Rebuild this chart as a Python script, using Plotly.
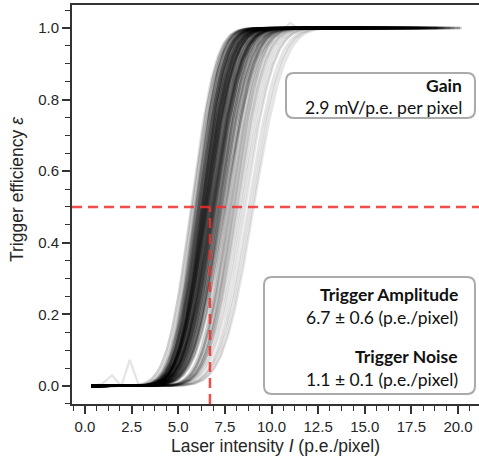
import math
import numpy as np
import plotly.graph_objects as go

# ---------------- data ----------------
# per-pixel fitted trigger amplitude (p.e./pixel) and trigger noise, densely populated core
core_amplitude = [6.42, 6.05, 6.88, 6.31, 7.12, 6.57, 5.96, 6.73, 6.19, 7.35, 6.64, 6.26, 6.95, 6.48,
                  5.88, 7.05, 6.36, 6.81, 6.12, 7.22, 6.53, 6.69, 6.02, 7.48, 6.40, 6.91, 6.23, 6.60,
                  7.15, 6.34, 5.92, 6.77, 6.46, 7.02, 6.15, 6.85, 6.55, 7.28, 6.28, 6.66, 6.08, 6.98,
                  6.44, 7.40, 6.20, 6.75, 6.50, 7.08, 6.38, 5.98, 6.62, 7.18, 6.30, 6.83, 6.10, 7.55,
                  6.47, 6.70, 6.25, 6.93, 6.58, 7.25, 6.35, 6.79, 6.16, 7.00, 6.52, 6.88, 6.40, 7.32]
core_noise = [1.08, 1.02, 1.15, 0.98, 1.12, 1.05, 1.00, 1.10, 1.04, 1.18, 1.07, 0.97, 1.13, 1.06,
              0.99, 1.11, 1.03, 1.16, 1.01, 1.09, 1.14, 1.05, 0.96, 1.20, 1.07, 1.12, 1.00, 1.08,
              1.17, 1.04, 0.98, 1.10, 1.06, 1.13, 1.02, 1.15, 1.09, 1.19, 1.03, 1.07, 0.99, 1.14,
              1.05, 1.22, 1.01, 1.11, 1.08, 1.16, 1.04, 0.97, 1.10, 1.18, 1.02, 1.12, 1.00, 1.21,
              1.06, 1.09, 1.03, 1.13, 1.07, 1.17, 1.05, 1.11, 0.98, 1.14, 1.08, 1.12, 1.04, 1.19]
core_max_intensity = [15.2, 17.9, 13.8, 16.4, 19.3, 14.6, 17.1, 15.9, 18.4, 13.4, 16.8, 14.1, 17.6, 15.5,
                      20.1, 16.1, 13.9, 18.1, 14.9, 17.3, 16.6, 15.0, 19.0, 13.6, 16.3, 17.8, 14.4, 15.7,
                      18.8, 16.9, 13.2, 17.2, 15.3, 19.6, 14.8, 16.0, 18.2, 14.2, 17.4, 15.8, 13.7, 18.6,
                      16.5, 14.5, 17.0, 20.2, 15.4, 16.7, 13.5, 18.0, 15.1, 17.5, 14.0, 19.2, 16.2, 14.7,
                      17.7, 15.6, 18.5, 13.3, 16.4, 19.8, 14.3, 17.9, 15.9, 18.3, 16.1, 14.9, 17.2, 18.9]

# sparser outlying pixels
outer_amplitude = [5.72, 7.62, 8.05, 5.80, 7.85, 8.40, 7.70, 8.95, 7.95, 8.20, 5.68, 7.78, 8.60, 7.66, 8.12,
                   9.05, 7.90, 8.30, 5.76, 7.74, 8.75, 8.00, 7.82, 8.50, 6.90, 7.58, 8.15, 6.50, 8.85, 7.98]
outer_noise = [1.05, 1.12, 1.18, 0.98, 1.10, 1.22, 1.08, 1.25, 1.15, 1.20, 1.02, 1.14, 1.19, 1.06, 1.16,
               1.28, 1.11, 1.21, 1.00, 1.09, 1.24, 1.13, 1.17, 1.23, 1.10, 1.07, 1.18, 1.05, 1.26, 1.12]
outer_max_intensity = [16.2, 14.8, 19.5, 13.9, 17.6, 15.3, 18.9, 14.1, 16.7, 15.8, 20.1, 13.6, 17.2, 14.9, 18.4,
                       15.5, 16.9, 13.8, 19.1, 14.6, 17.9, 15.1, 16.4, 14.3, 18.1, 13.5, 16.0, 15.0, 17.4, 14.4]

# one noisy measured pixel curve
noisy_intensity = [0.33, 0.9, 1.45, 1.95, 2.4, 2.9, 3.5, 4.2, 5.0, 5.8, 6.5, 7.2, 7.9, 8.6,
                   9.3, 10.0, 10.5, 11.0, 11.5, 12.2, 13.5, 15.0, 17.0, 19.0]
noisy_efficiency = [0.0, 0.005, 0.03, 0.0, 0.073, 0.0, 0.0, 0.004, 0.02, 0.08, 0.2, 0.42, 0.63, 0.8,
                    0.92, 0.97, 0.99, 1.014, 0.996, 1.0, 1.0, 1.0, 1.0, 1.0]

min_intensity = 0.33
mean_amplitude = 6.7
x_tick_values = [0, 2.5, 5, 7.5, 10, 12.5, 15, 17.5, 20]
x_tick_labels = ["0.0", "2.5", "5.0", "7.5", "10.0", "12.5", "15.0", "17.5", "20.0"]
y_tick_values = [0, 0.2, 0.4, 0.6, 0.8, 1.0]
y_tick_labels = ["0.0", "0.2", "0.4", "0.6", "0.8", "1.0"]

# ---------------- layout geometry ----------------
W, H = 479, 461
ML, MR, MT, MB = 72, 0, 5, 57
XR = [-0.697, 21.126]
YR = [-0.0503, 1.0642]
PW, PH = W - ML - MR, H - MT - MB


def px_x(px):
    return XR[0] + (px - ML) / PW * (XR[1] - XR[0])


def px_y(py):
    return YR[1] - (py - MT) / PH * (YR[1] - YR[0])


verf = np.vectorize(math.erf)


def efficiency(x, amp, noise):
    return 0.5 * (1 + verf((x - amp) / (math.sqrt(2) * noise)))


fig = go.Figure()

for amp, noise, xmax in zip(outer_amplitude, outer_noise, outer_max_intensity):
    x = np.linspace(min_intensity, xmax, 240)
    fig.add_trace(go.Scatter(x=x, y=efficiency(x, amp, noise), mode="lines",
                             line=dict(color="rgba(0,0,0,0.1)", width=2.3),
                             hoverinfo="skip", showlegend=False))

fig.add_trace(go.Scatter(x=noisy_intensity, y=noisy_efficiency, mode="lines",
                         line=dict(color="rgba(0,0,0,0.1)", width=2.3),
                         hoverinfo="skip", showlegend=False))

for amp, noise, xmax in zip(core_amplitude, core_noise, core_max_intensity):
    x = np.linspace(min_intensity, xmax, 240)
    fig.add_trace(go.Scatter(x=x, y=efficiency(x, amp, noise), mode="lines",
                             line=dict(color="rgba(0,0,0,0.2)", width=2.3),
                             hoverinfo="skip", showlegend=False))

red = "rgba(240,45,45,0.85)"
shapes = [
    dict(type="line", xref="paper", yref="y", x0=0, x1=1, y0=0.5, y1=0.5,
         line=dict(color=red, width=2.5, dash="10px,6px")),
    dict(type="line", xref="x", yref="paper", x0=mean_amplitude, x1=mean_amplitude, y0=0,
         y1=(0.5 - YR[0]) / (YR[1] - YR[0]),
         line=dict(color=red, width=2.5, dash="10px,6px")),
]


def rounded_box(x0, y0, x1, y1, r):
    pts = [
        ("M", (x0 + r, y0)), ("L", (x1 - r, y0)), ("Q", (x1, y0), (x1, y0 + r)),
        ("L", (x1, y1 - r)), ("Q", (x1, y1), (x1 - r, y1)), ("L", (x0 + r, y1)),
        ("Q", (x0, y1), (x0, y1 - r)), ("L", (x0, y0 + r)), ("Q", (x0, y0), (x0 + r, y0)),
    ]
    s = ""
    for p in pts:
        s += p[0] + " " + " ".join(f"{px_x(a):.5f},{px_y(b):.5f}" for a, b in p[1:]) + " "
    return s + "Z"


for bx in [(286, 73, 475, 118), (264, 277, 475, 394)]:
    shapes.append(dict(type="path", xref="x", yref="y", path=rounded_box(*bx, 8),
                       fillcolor="rgba(255,255,255,0.9)", line=dict(color="#aaaaaa", width=2),
                       layer="above"))

box_font = "Lato, Carlito, sans-serif"
ann = []


def add_text(text, px, py, bold=False):
    ann.append(dict(x=px_x(px), y=px_y(py), xref="x", yref="y", text=f"<b>{text}</b>" if bold else text,
                    showarrow=False, xanchor="right", yanchor="middle",
                    font=dict(family=box_font, size=17.5, color="#111111")))


add_text("Gain", 464, 85, True)
add_text("2.9 mV/p.e. per pixel", 464, 107)
add_text("Trigger Amplitude", 460, 294, True)
add_text("6.7 ± 0.6 (p.e./pixel)", 460, 317)
add_text("Trigger Noise", 460, 356, True)
add_text("1.1 ± 0.1 (p.e./pixel)", 460, 379)

axis_font = "Liberation Sans, Arial, Helvetica, sans-serif"
ann.append(dict(x=(17 - ML) / PW, y=px_y(190), xref="paper", yref="y", text="Trigger efficiency <i>ε</i>",
                showarrow=False, textangle=-90, xanchor="center", yanchor="middle",
                font=dict(family=axis_font, size=17.5, color="#262626")))

fig.update_layout(
    width=W, height=H, margin=dict(l=ML, r=MR, t=MT, b=MB, autoexpand=False),
    paper_bgcolor="white", plot_bgcolor="white",
    shapes=shapes, annotations=ann, showlegend=False,
    xaxis=dict(range=XR, showgrid=False, zeroline=False, showline=True, linewidth=2,
               linecolor="#333333", mirror=True, ticks="outside", ticklen=8, tickwidth=1.6,
               tickcolor="#333333", tickvals=x_tick_values, ticktext=x_tick_labels,
               tickfont=dict(family=axis_font, size=15, color="#262626"), automargin=False,
               minor=dict(dtick=0.625, tick0=0, ticks="outside", ticklen=5, tickwidth=1.3,
                          tickcolor="#333333"),
               title=dict(text="Laser intensity <i>I</i> (p.e./pixel)", standoff=6,
                          font=dict(family=axis_font, size=17.5, color="#262626"))),
    yaxis=dict(range=YR, showgrid=False, zeroline=False, showline=True, linewidth=2,
               linecolor="#333333", ticks="outside", ticklen=8, tickwidth=1.6,
               tickcolor="#333333", tickvals=y_tick_values, ticktext=y_tick_labels,
               tickfont=dict(family=axis_font, size=15, color="#262626"), automargin=False,
               minor=dict(dtick=0.05, tick0=0, ticks="outside", ticklen=5, tickwidth=1.3,
                          tickcolor="#333333")),
)

fig.write_html("out.html", config={"displayModeBar": False},
               post_script="document.body.style.margin='0px';document.body.style.overflow='hidden';")
